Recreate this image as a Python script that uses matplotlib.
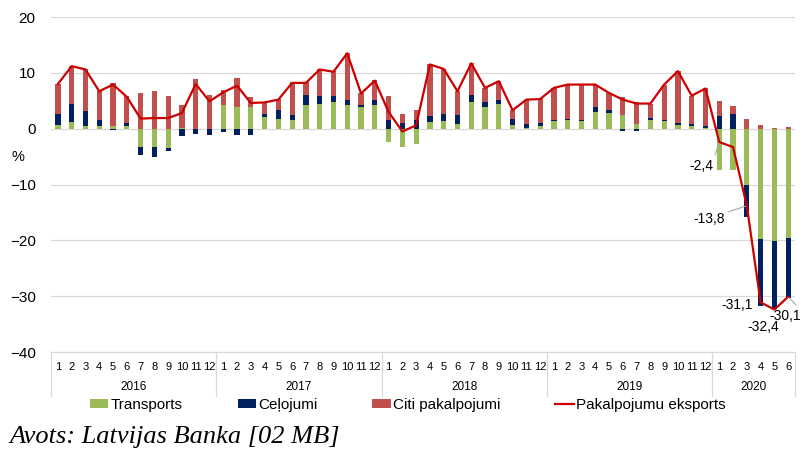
import numpy as np
import matplotlib.pyplot as plt

plt.rcParams['font.family'] = ['Liberation Sans', 'DejaVu Sans']

years = ['2016', '2017', '2018', '2019', '2020']
year_len = [12, 12, 12, 12, 6]
months = [str(m) for n in year_len for m in range(1, n + 1)]

# % change, y-o-y
transports = [0.6, 1.15, 0.5, 0.5, 0.5, 0.5, -3.2, -3.2, -3.5, 0.2, 0.0, 0.0,
              4.2, 3.9, 3.8, 2.1, 1.7, 1.5, 4.2, 4.5, 4.8, 4.2, 3.8, 4.2,
              -2.4, -3.2, -2.7, 1.2, 1.4, 0.9, 4.8, 3.8, 4.4, 0.6, 0.1, 0.5,
              1.3, 1.5, 1.4, 3.0, 2.8, 2.4, 0.8, 1.5, 1.3, 0.6, 0.4, 0.1,
              -7.4, -7.4, -10.1, -19.8, -20.2, -19.6]
celojumi = [2.1, 3.25, 2.7, 1.1, -0.3, 0.6, -1.5, -1.8, -0.5, -1.4, -0.9, -1.1,
            -0.6, -1.2, -1.1, 0.6, 1.6, 1.0, 1.9, 1.4, 1.1, 1.0, 0.4, 1.0,
            1.5, 1.0, 1.6, 1.0, 1.3, 1.6, 1.3, 1.0, 0.8, 1.2, 0.8, 0.6,
            0.3, 0.3, 0.1, 0.8, 0.5, -0.4, -0.4, 0.4, 0.3, 0.4, 0.5, 0.4,
            2.3, 2.6, -5.7, -11.9, -12.1, -10.8]
citi = [5.3, 6.8, 7.4, 5.1, 7.7, 4.7, 6.4, 6.8, 5.8, 4.0, 8.9, 6.0,
        2.8, 5.1, 1.8, 2.0, 2.0, 5.8, 2.2, 4.7, 4.4, 8.3, 2.2, 3.5,
        4.3, 1.6, 1.7, 9.3, 8.0, 4.2, 5.6, 2.5, 3.3, 1.5, 4.3, 4.2,
        5.7, 6.1, 6.4, 4.1, 3.1, 3.2, 3.9, 2.5, 6.3, 9.3, 5.0, 6.8,
        2.7, 1.5, 1.8, 0.6, 0.1, 0.3]
eksports = [8.0, 11.2, 10.6, 6.7, 7.9, 5.7, 1.8, 1.9, 1.9, 2.8, 8.0, 4.9,
            6.5, 7.7, 4.6, 4.7, 5.2, 8.2, 8.2, 10.6, 10.2, 13.5, 6.3, 8.6,
            3.0, -0.5, 0.6, 11.5, 10.7, 6.7, 11.7, 7.3, 8.5, 3.3, 5.2, 5.3,
            7.3, 7.9, 7.9, 7.9, 6.4, 5.2, 4.5, 4.5, 7.9, 10.3, 5.9, 7.2,
            -2.4, -3.3, -13.8, -31.1, -32.4, -30.1]

series = [(transports, '#9bbb59', 'Transports'),
          (celojumi, '#002060', 'Ceļojumi'),
          (citi, '#c0504d', 'Citi pakalpojumi')]

x = np.arange(len(months))
fig = plt.figure(figsize=(8.06, 4.51), dpi=100)
ax = fig.add_axes([0.0633, 0.2195, 0.9231, 0.7428])

handles = []
pos_base = np.zeros(len(x))
neg_base = np.zeros(len(x))
for vals, col, lab in series:
    v = np.array(vals)
    bottom = np.where(v >= 0, pos_base, neg_base)
    h = ax.bar(x, v, 0.38, bottom=bottom, color=col, label=lab, zorder=2)
    handles.append(h)
    pos_base += np.clip(v, 0, None)
    neg_base += np.clip(v, None, 0)
line, = ax.plot(x, eksports, color='#cc0000', lw=1.6, zorder=3, label='Pakalpojumu eksports')
handles.append(line)

ax.set_ylim(-40, 20)
ax.set_xlim(-0.5, len(x) - 0.5)
ax.set_yticks(range(-40, 21, 10))
ax.yaxis.grid(True, color='#d9d9d9', lw=0.9)
ax.set_axisbelow(True)
for s in ['top', 'right', 'left']:
    ax.spines[s].set_visible(False)
ax.spines['bottom'].set_color('#d9d9d9')
ax.tick_params(axis='y', length=0, labelsize=11, pad=11)
ax.set_xticks(x)
ax.set_xticklabels(months, fontsize=8)
ax.tick_params(axis='x', length=0, pad=7)

# two-level category axis
trans = ax.get_xaxis_transform()
start = 0
for yr, n in zip(years, year_len):
    ax.text(start + (n - 1) / 2, -0.105, yr, transform=trans,
            ha='center', va='center', fontsize=8.5)
    start += n
bounds = np.cumsum([0] + year_len) - 0.5
for b in bounds:
    ax.plot([b, b], [0, -0.13], transform=trans, color='#d9d9d9', lw=0.9, clip_on=False)

# data labels for 2020
lab_idx = [48, 50, 51, 52, 53]
lab_off = [(-18, -24), (-38, -13), (-24, -3), (-11, -17), (-3, -19)]
for i, (dx, dy) in zip(lab_idx, lab_off):
    txt = f'{eksports[i]:.1f}'.replace('.', ',')
    arrow = None
    if i in (48, 50, 53):
        arrow = dict(arrowstyle='-', color='#a6a6a6', lw=0.8, shrinkA=1, shrinkB=1,
                     relpos=(1.0, 0.9))
    ax.annotate(txt, (i, eksports[i]), xytext=(dx, dy), textcoords='offset pixels',
                ha='center', va='center', fontsize=10, arrowprops=arrow, zorder=4)

fig.text(0.022, 1 - 157 / 451, '%', fontsize=10.5, ha='center', va='center')

fig.legend(handles=handles, loc='center', bbox_to_anchor=(0.506, 0.102), ncol=4,
           frameon=False, fontsize=11, handlelength=1.2, handleheight=0.6,
           handletextpad=0.15, columnspacing=3.6, borderaxespad=0)

fig.text(0.012, 0.032, 'Avots: Latvijas Banka [02 MB]', fontsize=19, style='italic',
         family='Liberation Serif', ha='left', va='center')

fig.savefig('out.png', dpi=100)
